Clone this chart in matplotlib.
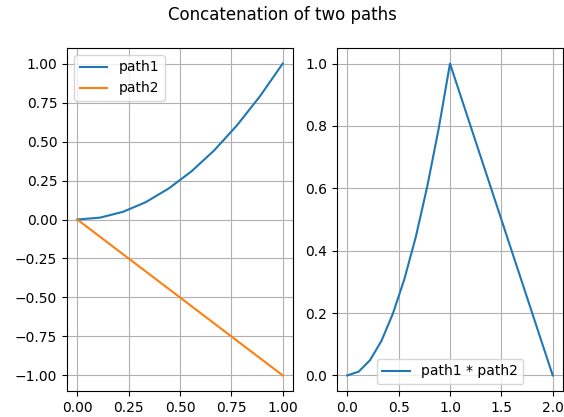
import numpy as np
import matplotlib
matplotlib.use("Agg")
import matplotlib.pyplot as plt

# path1 samples
x1 = [0.0, 0.111, 0.222, 0.333, 0.444, 0.556, 0.667, 0.778, 0.889, 1.0]
y1 = [0.0, 0.012, 0.049, 0.111, 0.198, 0.309, 0.444, 0.605, 0.790, 1.0]
# path2
x2 = [0.0, 0.111, 0.222, 0.333, 0.444, 0.556, 0.667, 0.778, 0.889, 1.0]
y2 = [0.0, -0.111, -0.222, -0.333, -0.444, -0.556, -0.667, -0.778, -0.889, -1.0]
# concatenation path1 * path2
xc = [0.0, 0.111, 0.222, 0.333, 0.444, 0.556, 0.667, 0.778, 0.889, 1.0,
      1.111, 1.222, 1.333, 1.444, 1.556, 1.667, 1.778, 1.889, 2.0]
yc = [0.0, 0.012, 0.049, 0.111, 0.198, 0.309, 0.444, 0.605, 0.790, 1.0,
      0.889, 0.778, 0.667, 0.556, 0.444, 0.333, 0.222, 0.111, 0.0]

fig = plt.figure(figsize=(5.64, 4.17), dpi=100)
ax1 = fig.add_axes([67/564, 1-391/417, 226/564, 343/417])
ax2 = fig.add_axes([337/564, 1-391/417, 226/564, 343/417])

ax1.plot(x1, y1, label="path1")
ax1.plot(x2, y2, label="path2")
ax1.grid(True)
ax1.legend(loc="upper left")

ax2.plot(xc, yc, label="path1 * path2")
ax2.grid(True)
ax2.legend(loc="lower center")

fig.suptitle("Concatenation of two paths", y=0.985)
fig.savefig("out.png", dpi=100)
